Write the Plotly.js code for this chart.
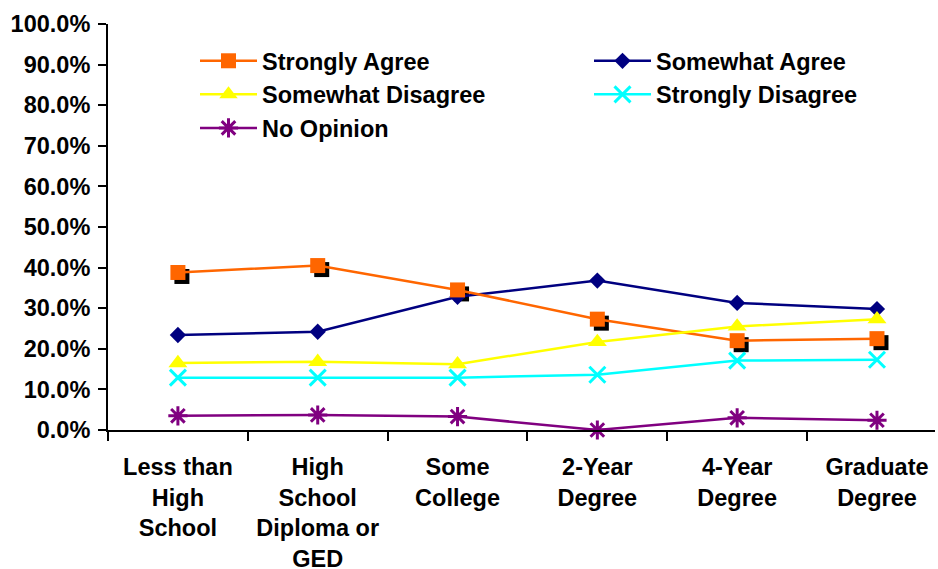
<!DOCTYPE html>
<html>
<head>
<meta charset="utf-8">
<script src="https://cdn.plot.ly/plotly-3.0.1.min.js"></script>
<style>
  html, body { margin: 0; padding: 0; background: #fff; }
  #chart { width: 938px; height: 569px; }
</style>
</head>
<body>
<div id="chart"></div>
<script>
// ---- data (percent) ----
const categories = [
  "Less than<br>High<br>School",
  "High<br>School<br>Diploma or<br>GED",
  "Some<br>College",
  "2-Year<br>Degree",
  "4-Year<br>Degree",
  "Graduate<br>Degree"
];
const stronglyAgree    = [38.8, 40.5, 34.5, 27.3, 22.0, 22.5];
const somewhatAgree    = [23.4, 24.2, 32.8, 36.8, 31.3, 29.8];
const somewhatDisagree = [16.5, 16.8, 16.2, 21.7, 25.5, 27.3];
const stronglyDisagree = [12.9, 12.9, 12.9, 13.6, 17.1, 17.3];
const noOpinion        = [3.5, 3.7, 3.3, 0.0, 3.0, 2.4];
const yTickVals = [0, 10, 20, 30, 40, 50, 60, 70, 80, 90, 100];
const yTickText = yTickVals.map(v => v.toFixed(1) + '%');

const FONT = "Liberation Sans, Arial, sans-serif";
const FS = 23.5;

// plot geometry (px) for the drop-shadow offset of the squares
const plotW = 827, plotH = 406;
const xRange = [-0.5, 5.415];
const yRange = [0, 100];
const sh = 4; // shadow offset px
const dxu = sh * (xRange[1] - xRange[0]) / plotW;
const dyu = sh * (yRange[1] - yRange[0]) / plotH;

const lw = 2.5;
const traces = [
  { // shadow of squares (base axes, drawn beneath)
    x: categories, y: stronglyAgree, xaxis: 'x', yaxis: 'y',
    mode: 'markers', showlegend: false, hoverinfo: 'skip', cliponaxis: false,
    marker: { symbol: 'square', size: 15, color: '#000000' }
  },
  {
    name: 'Somewhat Agree', x: categories, y: somewhatAgree, xaxis: 'x2', yaxis: 'y2',
    mode: 'lines+markers', cliponaxis: false, legend: 'legend2',
    line: { color: '#000080', width: lw },
    marker: { symbol: 'diamond', size: 12.5, color: '#000080' }
  },
  {
    name: 'Strongly Agree', x: categories, y: stronglyAgree, xaxis: 'x2', yaxis: 'y2',
    mode: 'lines+markers', cliponaxis: false, legend: 'legend',
    line: { color: '#FF6600', width: lw },
    marker: { symbol: 'square', size: 15, color: '#FF6600' }
  },
  {
    name: 'Somewhat Disagree', x: categories, y: somewhatDisagree, xaxis: 'x2', yaxis: 'y2',
    mode: 'lines+markers', cliponaxis: false, legend: 'legend',
    line: { color: '#FFFF00', width: lw },
    marker: { symbol: 'triangle-up', size: 16.5, color: '#FFFF00' }
  },
  {
    name: 'Strongly Disagree', x: categories, y: stronglyDisagree, xaxis: 'x2', yaxis: 'y2',
    mode: 'lines+markers', cliponaxis: false, legend: 'legend2',
    line: { color: '#00FFFF', width: lw },
    marker: { symbol: 'x-thin', size: 16, color: '#00FFFF', line: { color: '#00FFFF', width: 3 } }
  },
  {
    name: 'No Opinion', x: categories, y: noOpinion, xaxis: 'x2', yaxis: 'y2',
    mode: 'lines+markers', cliponaxis: false, legend: 'legend',
    line: { color: '#800080', width: lw },
    marker: { symbol: 'asterisk', size: 16, color: '#800080', line: { color: '#800080', width: 3 } }
  }
];

const legendCommon = {
  xref: 'paper', yref: 'paper', xanchor: 'left', yanchor: 'top',
  bgcolor: 'rgba(0,0,0,0)', borderwidth: 0, itemwidth: 57, traceorder: 'normal',
  font: { family: FONT, size: FS, color: '#000', weight: 'bold' }
};

const layout = {
  width: 938, height: 569,
  margin: { l: 108, r: 3, t: 24, b: 139, autoexpand: false },
  paper_bgcolor: '#ffffff', plot_bgcolor: 'rgba(0,0,0,0)',
  font: { family: FONT, size: FS, color: '#000000', weight: 'bold' },
  showlegend: true,
  xaxis: {
    type: 'category', range: [xRange[0] - dxu, xRange[1] - dxu],
    visible: false, fixedrange: true
  },
  yaxis: {
    range: [yRange[0] + dyu, yRange[1] + dyu],
    visible: false, fixedrange: true
  },
  xaxis2: {
    type: 'category', overlaying: 'x', side: 'bottom', anchor: 'y2',
    range: xRange, tickson: 'boundaries', tickangle: 0, automargin: false,
    ticks: 'outside', ticklen: 9, tickwidth: 2, tickcolor: '#000',
    showline: true, linecolor: '#000', linewidth: 2,
    showgrid: false, zeroline: false,
    ticklabelstandoff: 15,
    tickfont: { family: FONT, size: FS, color: '#000', weight: 'bold' }
  },
  yaxis2: {
    overlaying: 'y', side: 'left', anchor: 'x2', automargin: false,
    range: yRange, tickmode: 'array', tickvals: yTickVals, ticktext: yTickText,
    ticks: 'outside', ticklen: 8, tickwidth: 2, tickcolor: '#000',
    showline: true, linecolor: '#000', linewidth: 2,
    showgrid: false, zeroline: false,
    ticklabelstandoff: 3,
    tickfont: { family: FONT, size: FS, color: '#000', weight: 'bold' }
  },
  legend: Object.assign({}, legendCommon, { x: (195 - 108) / plotW, y: (430 - 39) / plotH }),
  legend2: Object.assign({}, legendCommon, { x: (589 - 108) / plotW, y: (430 - 39) / plotH })
};

Plotly.newPlot('chart', traces, layout, { displayModeBar: false, staticPlot: true });
</script>
</body>
</html>
